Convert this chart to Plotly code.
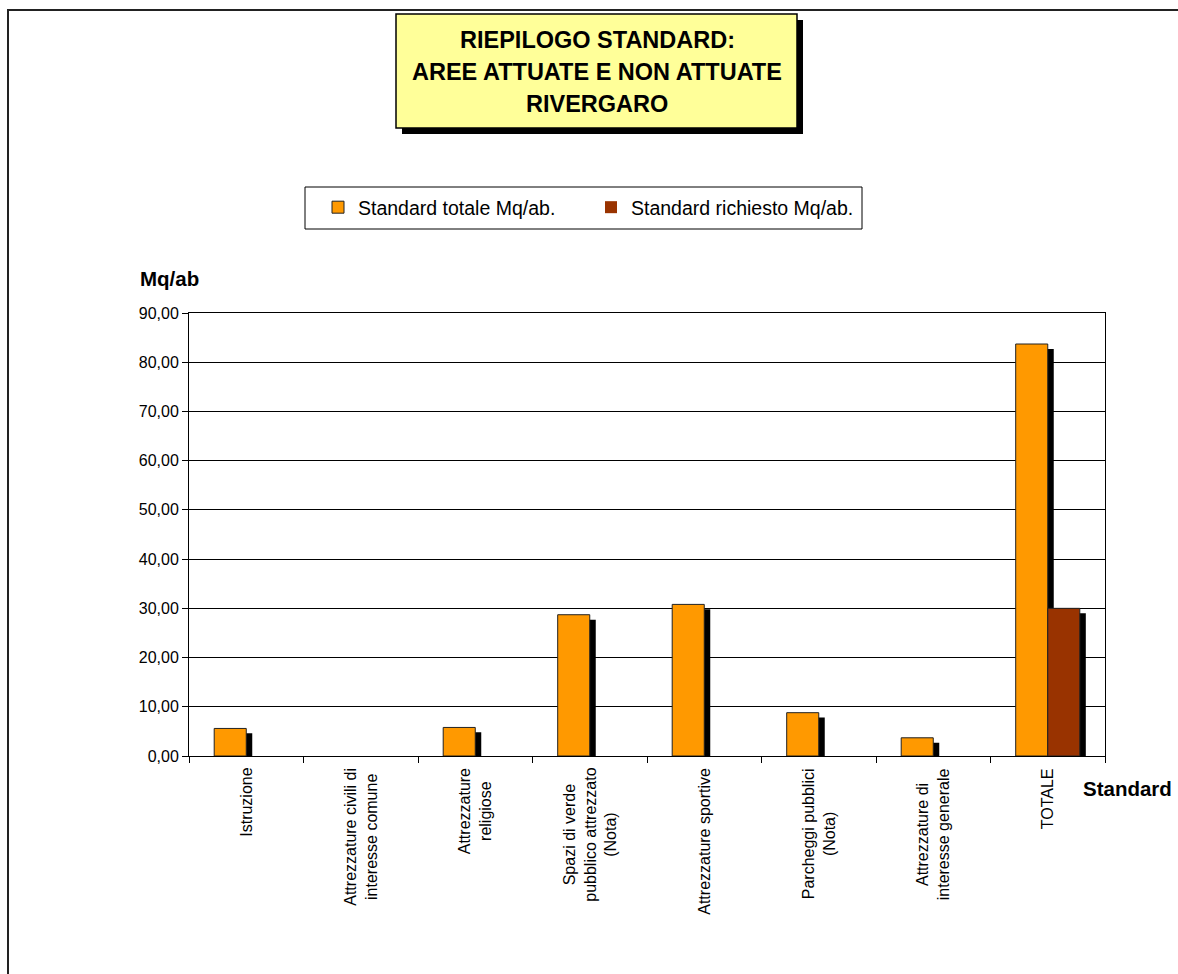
import plotly.graph_objects as go

# ---------------- data ----------------
categories = [
    "Istruzione",
    "Attrezzature civili di<br>interesse comune",
    "Attrezzature<br>religiose",
    "Spazi di verde<br>pubblico attrezzato<br>(Nota)",
    "Attrezzature sportive",
    "Parcheggi pubblici<br>(Nota)",
    "Attrezzature di<br>interesse generale",
    "TOTALE",
]
standard_totale = [5.6, 0.0, 5.8, 28.7, 30.8, 8.8, 3.7, 83.7]
standard_richiesto = [None, None, None, None, None, None, None, 30.0]
series_names = ["Standard totale Mq/ab.", "Standard richiesto Mq/ab."]
y_tick_values = [0, 10, 20, 30, 40, 50, 60, 70, 80, 90]
y_tick_labels = ["0,00", "10,00", "20,00", "30,00", "40,00", "50,00",
                 "60,00", "70,00", "80,00", "90,00"]
title_lines = ["RIEPILOGO STANDARD:", "AREE ATTUATE E NON ATTUATE", "RIVERGARO"]
y_title = "Mq/ab"
x_title = "Standard"

# ---------------- layout constants ----------------
W, H = 1178, 974
PL, PR, PT, PB = 189, 1105, 313, 756   # plot area in pixels
FONT = "Liberation Sans, Arial, sans-serif"
ORANGE = "#FF9900"
BROWN = "#993300"
BAR_W = 0.28
SHADOW_DX = 6 / ((PR - PL) / len(categories))  # category units
SHADOW_DROP = 1.0                                # value units


def px(x):
    return (x - PL) / (PR - PL)


def py(y):
    return (PB - y) / (PB - PT)


def shadow(vals):
    return [None if v is None else max(v - SHADOW_DROP, 0) for v in vals]


def outline(vals):
    return [0 if (v is None or v == 0) else 1 for v in vals]


fig = go.Figure()

# shadows
for vals, off in ((standard_totale, -BAR_W), (standard_richiesto, 0.0)):
    fig.add_trace(go.Bar(
        x=categories, y=shadow(vals), width=BAR_W, offset=off + SHADOW_DX,
        marker=dict(color="black", line=dict(width=0)),
        showlegend=False, hoverinfo="skip"))

# main bars
for vals, off, col, name in ((standard_totale, -BAR_W, ORANGE, series_names[0]),
                             (standard_richiesto, 0.0, BROWN, series_names[1])):
    fig.add_trace(go.Bar(
        x=categories, y=vals, width=BAR_W, offset=off, name=name,
        marker=dict(color=col, line=dict(color="#222222", width=outline(vals)))))

fig.update_layout(
    width=W, height=H,
    margin=dict(l=PL, r=W - PR, t=PT, b=H - PB, pad=0),
    paper_bgcolor="white", plot_bgcolor="white",
    barmode="overlay",
    font=dict(family=FONT, size=16, color="black"),
    showlegend=True,
    legend=dict(orientation="h", x=px(318), y=py(188), xanchor="left", yanchor="top",
                bgcolor="rgba(0,0,0,0)", borderwidth=0,
                font=dict(family=FONT, size=19.5, color="black"),
                entrywidth=228, entrywidthmode="pixels",
                traceorder="normal"),
)

fig.update_xaxes(
    type="category", categoryorder="array", categoryarray=categories,
    showticklabels=False, ticks="outside", tickson="boundaries", ticklen=6,
    tickcolor="black", showline=True, linecolor="black", linewidth=1, mirror=True,
    showgrid=False, zeroline=False)
fig.update_yaxes(
    range=[0, 90], tickvals=y_tick_values, ticktext=y_tick_labels,
    ticks="outside", ticklen=6, tickcolor="black",
    tickfont=dict(family=FONT, size=16, color="black"),
    showline=True, linecolor="black", linewidth=1, mirror=True,
    showgrid=True, gridcolor="black", gridwidth=1, zeroline=False)

# category labels (rotated, centred lines)
for c in categories:
    fig.add_annotation(x=c, y=py(766), xref="x", yref="paper", text=c,
                       textangle=-90, showarrow=False, xanchor="center", yanchor="top",
                       align="center", font=dict(family=FONT, size=16, color="black"))

# axis titles
fig.add_annotation(x=px(138), y=py(278), xref="paper", yref="paper", text="<b>%s</b>" % y_title,
                   showarrow=False, xanchor="left", yanchor="middle",
                   font=dict(family=FONT, size=20.5, color="black"))
fig.add_annotation(x=px(1081), y=py(788), xref="paper", yref="paper", text="<b>%s</b>" % x_title,
                   showarrow=False, xanchor="left", yanchor="middle",
                   font=dict(family=FONT, size=20.5, color="black"))

# outer chart border
fig.add_shape(type="rect", xref="paper", yref="paper",
              x0=px(8), x1=px(1260), y0=py(1100), y1=py(10),
              line=dict(color="#222222", width=2), fillcolor="rgba(0,0,0,0)", layer="below")

# title box with shadow
fig.add_shape(type="rect", xref="paper", yref="paper",
              x0=px(402), x1=px(803), y0=py(134), y1=py(20),
              line=dict(width=0), fillcolor="black")
fig.add_shape(type="rect", xref="paper", yref="paper",
              x0=px(396), x1=px(797), y0=py(128), y1=py(14),
              line=dict(color="black", width=1.5), fillcolor="#FFFF99")
for line, yy in zip(title_lines, (40, 72, 104)):
    fig.add_annotation(x=px(597), y=py(yy), xref="paper", yref="paper",
                       text="<b>%s</b>" % line, showarrow=False,
                       xanchor="center", yanchor="middle",
                       font=dict(family=FONT, size=23.5, color="black"))

# legend box
fig.add_shape(type="rect", xref="paper", yref="paper",
              x0=px(305), x1=px(862), y0=py(229), y1=py(187),
              line=dict(color="black", width=1), fillcolor="rgba(0,0,0,0)")

fig.write_html("out.html")
